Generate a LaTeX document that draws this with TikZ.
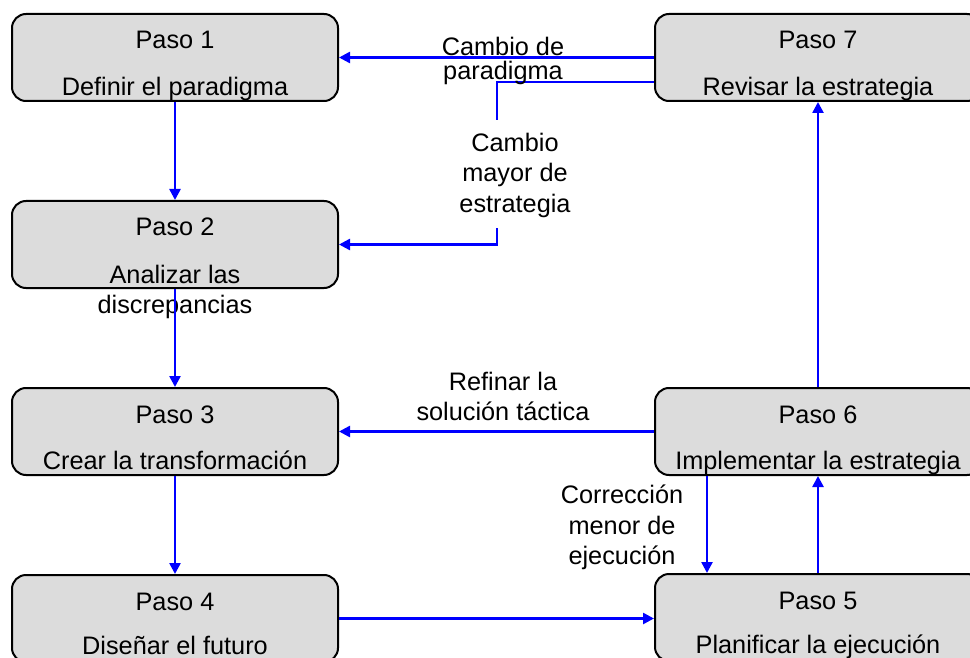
\documentclass[tikz,border=0pt]{standalone}
\usepackage{fontspec}
\setmainfont{Liberation Sans}
\usetikzlibrary{arrows.meta,calc}
\definecolor{boxgray}{HTML}{DCDCDC}
\definecolor{flowblue}{HTML}{0000FF}
\begin{document}
\begin{tikzpicture}[x=1pt,y=-1pt,
  stepbox/.style={draw=black,line width=2pt,fill=boxgray,rounded corners=14pt,
    minimum width=326pt,minimum height=87pt,inner sep=0pt},
  txt/.style={font=\fontsize{25.3}{30.5}\selectfont,inner sep=0pt,align=center},
  flow/.style={draw=flowblue,line width=2.5pt,-{Triangle[length=11pt,width=11pt]}},
  flowline/.style={draw=flowblue,line width=2.5pt}]
\useasboundingbox (0,0) rectangle (970,658);
\clip (0,0) rectangle (970,658);
% boxes
\node[stepbox] (p1) at (175,57.5) {};
\node[stepbox] (p2) at (175,244.5) {};
\node[stepbox] (p3) at (175,431.5) {};
\node[stepbox] (p4) at (175,618.5) {};
\node[stepbox] (p7) at (818,57.5) {};
\node[stepbox] (p6) at (818,431.5) {};
\node[stepbox] (p5) at (818,617.5) {};
% box texts
\node[txt,anchor=base] (t1a) at ($(p1.north)+(0,36)$) {Paso 1};
\node[txt,anchor=base] (t1b) at ($(p1.north)+(0,82.5)$) {Definir el paradigma};
\node[txt,anchor=base] (t2a) at ($(p2.north)+(0,36)$) {Paso 2};
\node[txt] (t2b) at (175,292) {Analizar las\\discrepancias};
\node[txt,anchor=base] (t3a) at ($(p3.north)+(0,36)$) {Paso 3};
\node[txt,anchor=base] (t3b) at ($(p3.north)+(0,82.5)$) {Crear la transformación};
\node[txt,anchor=base] (t4a) at ($(p4.north)+(0,36)$) {Paso 4};
\node[txt,anchor=base] (t4b) at ($(p4.north)+(0,80.5)$) {Diseñar el futuro};
\node[txt,anchor=base] (t7a) at ($(p7.north)+(0,36)$) {Paso 7};
\node[txt,anchor=base] (t7b) at ($(p7.north)+(0,82.5)$) {Revisar la estrategia};
\node[txt,anchor=base] (t6a) at ($(p6.north)+(0,36)$) {Paso 6};
\node[txt,anchor=base] (t6b) at ($(p6.north)+(0,82.5)$) {Implementar la estrategia};
\node[txt,anchor=base] (t5a) at ($(p5.north)+(0,36)$) {Paso 5};
\node[txt,anchor=base] (t5b) at ($(p5.north)+(0,80.5)$) {Planificar la ejecución};
% connectors
\draw[flow] (p1.south) -- (p2.north);
\draw[flow] (p2.south) -- (p3.north);
\draw[flow] (p3.south) -- (p4.north);
\draw[flow] (p4.east) -- (p4.east -| p5.west);
\draw[flow] (p5.north) -- (p6.south);
\draw[flow] ([xshift=-111pt]p6.south) -- ([xshift=-111pt]p5.north);
\draw[flow] (p6.north) -- (p7.south);
\draw[flow] (p6.west) -- (p3.east);
\draw[flow] (p7.west) -- (p1.east);
\coordinate (k1) at (497,120);
\coordinate (k2) at (497,228);
\draw[flowline] ([yshift=-24.5pt]p7.west) -| (k1);
\draw[flow] (k2) |- (p2.east);
% labels
\node[txt,font=\fontsize{25.3}{24}\selectfont] (l1) at (503,60.5) {Cambio de\\paradigma};
\node[txt] (l2) at (515,175) {Cambio\\mayor de\\estrategia};
\node[txt] (l3) at (503,396.5) {Refinar la\\solución táctica};
\node[txt] (l4) at (622,527.5) {Corrección\\menor de\\ejecución};
\end{tikzpicture}
\end{document}
